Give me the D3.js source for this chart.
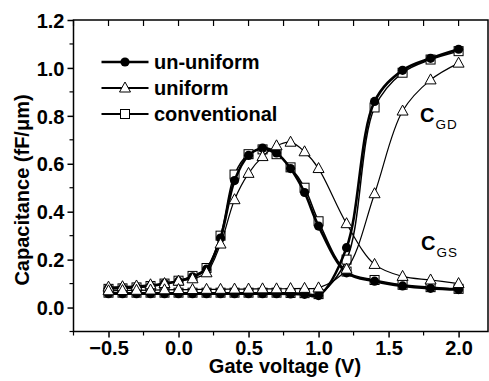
<!DOCTYPE html>
<html>
<head>
<meta charset="utf-8">
<script src="https://cdn.jsdelivr.net/npm/d3@7"></script>
<style>
  body { margin: 0; background: #fff; }
  svg { display: block; font-family: "Liberation Sans", Arial, sans-serif; }
</style>
</head>
<body>
<div id="chart"></div>
<script>
// gate voltage points (V)
const gateV = [-0.5, -0.4, -0.3, -0.2, -0.1, 0.0, 0.1, 0.2, 0.3, 0.4, 0.5, 0.6, 0.7, 0.8, 0.9, 1.0, 1.2, 1.4, 1.6, 1.8, 2.0];

// C_GS (fF/um)
const cgsUnUniform    = [0.080, 0.082, 0.085, 0.090, 0.100, 0.110, 0.128, 0.160, 0.290, 0.530, 0.635, 0.665, 0.645, 0.580, 0.480, 0.340, 0.145, 0.110, 0.090, 0.080, 0.075];
const cgsUniform      = [0.085, 0.087, 0.090, 0.095, 0.100, 0.110, 0.120, 0.145, 0.265, 0.450, 0.560, 0.630, 0.675, 0.690, 0.650, 0.580, 0.350, 0.180, 0.130, 0.115, 0.100];
const cgsConventional = [0.078, 0.080, 0.084, 0.090, 0.100, 0.112, 0.132, 0.165, 0.300, 0.555, 0.640, 0.660, 0.640, 0.585, 0.500, 0.360, 0.150, 0.115, 0.095, 0.085, 0.078];

// C_GD (fF/um)
const cgdUnUniform    = [0.058, 0.058, 0.058, 0.058, 0.058, 0.058, 0.058, 0.058, 0.058, 0.058, 0.058, 0.058, 0.058, 0.057, 0.055, 0.050, 0.250, 0.860, 0.990, 1.040, 1.078];
const cgdUniform      = [0.070, 0.071, 0.072, 0.073, 0.074, 0.075, 0.075, 0.076, 0.076, 0.077, 0.077, 0.078, 0.078, 0.079, 0.080, 0.082, 0.160, 0.475, 0.820, 0.950, 1.020];
const cgdConventional = [0.062, 0.062, 0.062, 0.062, 0.062, 0.062, 0.062, 0.062, 0.062, 0.062, 0.062, 0.062, 0.062, 0.061, 0.060, 0.056, 0.200, 0.835, 0.980, 1.035, 1.070];

const xTicks = [-0.5, 0.0, 0.5, 1.0, 1.5, 2.0];
const yTicks = [0.0, 0.2, 0.4, 0.6, 0.8, 1.0, 1.2];

const series = [
  {name: "conventional", symbol: "square",   lw: 1.5, gs: cgsConventional, gd: cgdConventional},
  {name: "un-uniform",   symbol: "circle",   lw: 2.6, gs: cgsUnUniform,    gd: cgdUnUniform},
  {name: "uniform",      symbol: "triangle", lw: 1.2, gs: cgsUniform,      gd: cgdUniform}
];
const legendOrder = ["un-uniform", "uniform", "conventional"];

const width = 489, height = 381;
const pLeft = 73.5, pRight = 488, pTop = 20, pBottom = 331.5;

const x = d3.scaleLinear().domain([-0.75, 2.21]).range([pLeft, pRight]);
const y = d3.scaleLinear().domain([-0.1, 1.2]).range([pBottom, pTop]);

const svg = d3.select("#chart").append("svg")
    .attr("width", width)
    .attr("height", height);

function drawSymbol(g, type, cx, cy) {
  if (type === "circle") {
    g.append("circle").attr("cx", cx).attr("cy", cy).attr("r", 4.6)
      .attr("fill", "#000");
  } else if (type === "square") {
    g.append("rect").attr("x", cx - 4.5).attr("y", cy - 4.5)
      .attr("width", 9).attr("height", 9)
      .attr("fill", "#fff").attr("stroke", "#000").attr("stroke-width", 1);
  } else {
    g.append("path")
      .attr("d", `M${cx},${cy - 6}L${cx + 5.5},${cy + 4}L${cx - 5.5},${cy + 4}Z`)
      .attr("fill", "#fff").attr("stroke", "#000").attr("stroke-width", 1);
  }
}

const line = d3.line()
    .x(d => x(d[0]))
    .y(d => y(d[1]))
    .curve(d3.curveCatmullRom.alpha(0.5));

const plot = svg.append("g");

series.forEach(s => {
  const g = plot.append("g");
  [s.gs, s.gd].forEach(vals => {
    const pts = gateV.map((v, i) => [v, vals[i]]);
    g.append("path")
      .attr("d", line(pts))
      .attr("fill", "none")
      .attr("stroke", "#000")
      .attr("stroke-width", s.lw);
  });
  [s.gs, s.gd].forEach(vals => {
    gateV.forEach((v, i) => drawSymbol(g, s.symbol, x(v), y(vals[i])));
  });
});

// frame
svg.append("rect")
    .attr("x", pLeft).attr("y", pTop)
    .attr("width", pRight - pLeft).attr("height", pBottom - pTop)
    .attr("fill", "none").attr("stroke", "#000").attr("stroke-width", 1.5);

// bottom axis
const xAxis = svg.append("g").attr("transform", `translate(0,${pBottom})`);
xAxis.call(d3.axisBottom(x).tickValues(xTicks).tickSize(6).tickFormat(d3.format(".1f")))
  .call(g => g.select(".domain").remove())
  .call(g => g.selectAll(".tick line").attr("stroke-width", 1.5))
  .call(g => g.selectAll("text")
    .attr("y", 9).attr("dy", "0.71em")
    .style("font-size", "20px").style("font-weight", "bold").attr("fill", "#000"));
xAxis.selectAll(".minor")
  .data(d3.range(-0.75, 2.2, 0.5))
  .join("line")
    .attr("x1", d => x(d)).attr("x2", d => x(d))
    .attr("y1", 0).attr("y2", 4)
    .attr("stroke", "#000").attr("stroke-width", 1.2);

// top ticks (inward)
svg.append("g").selectAll("line")
  .data(d3.range(-0.75, 2.2, 0.25))
  .join("line")
    .attr("x1", d => x(d)).attr("x2", d => x(d))
    .attr("y1", pTop).attr("y2", pTop + 6)
    .attr("stroke", "#000").attr("stroke-width", 1.2);

// left axis
const yAxis = svg.append("g").attr("transform", `translate(${pLeft},0)`);
yAxis.call(d3.axisLeft(y).tickValues(yTicks).tickSize(6).tickFormat(d3.format(".1f")))
  .call(g => g.select(".domain").remove())
  .call(g => g.selectAll(".tick line").attr("stroke-width", 1.5))
  .call(g => g.selectAll("text")
    .attr("x", -9).attr("dy", "0.36em")
    .style("font-size", "20px").style("font-weight", "bold").attr("fill", "#000"));
yAxis.selectAll(".minor")
  .data(d3.range(-0.1, 1.2, 0.2))
  .join("line")
    .attr("x1", 0).attr("x2", -4)
    .attr("y1", d => y(d)).attr("y2", d => y(d))
    .attr("stroke", "#000").attr("stroke-width", 1.2);

// axis titles
svg.append("text")
    .attr("x", 285).attr("y", 373)
    .attr("text-anchor", "middle")
    .style("font-size", "20px").style("font-weight", "bold")
    .text("Gate voltage (V)");

svg.append("text")
    .attr("transform", "translate(29,190) rotate(-90)")
    .attr("text-anchor", "middle")
    .style("font-size", "20px").style("font-weight", "bold")
    .text("Capacitance (fF/μm)");

// legend
const legend = svg.append("g");
legendOrder.forEach((name, i) => {
  const s = series.find(d => d.name === name);
  const cy = 62 + i * 26;
  legend.append("line")
    .attr("x1", 101.5).attr("x2", 148.5)
    .attr("y1", cy).attr("y2", cy)
    .attr("stroke", "#000").attr("stroke-width", name === "un-uniform" ? 2.6 : 2);
  drawSymbol(legend, s.symbol, 125, cy);
  legend.append("text")
    .attr("x", 154).attr("y", cy + 7)
    .style("font-size", "20px").style("font-weight", "bold")
    .text(name);
});

// curve labels
function curveLabel(px, py, sub) {
  const t = svg.append("text").attr("x", px).attr("y", py)
      .style("font-size", "20px").style("font-weight", "bold").text("C");
  t.append("tspan").attr("dy", 7).attr("dx", 1)
      .style("font-size", "13.5px").style("font-weight", "normal")
      .style("letter-spacing", "1px")
      .text(sub);
}
curveLabel(420, 122, "GD");
curveLabel(421, 250, "GS");
</script>
</body>
</html>
